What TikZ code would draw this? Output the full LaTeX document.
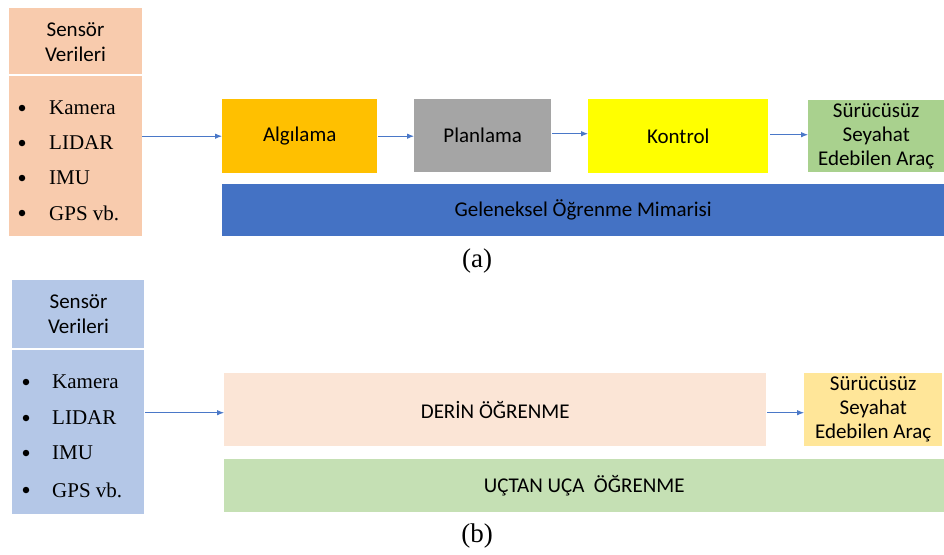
\documentclass[tikz,border=0pt]{standalone}
\usepackage{fontspec}
\setmainfont{Liberation Serif}
\newfontfamily\calfont{Carlito}
\usetikzlibrary{arrows.meta,calc}

\definecolor{sensA}{HTML}{F8CBAD}
\definecolor{sensB}{HTML}{B4C7E7}
\definecolor{algC}{HTML}{FFC000}
\definecolor{planC}{HTML}{A5A5A5}
\definecolor{konC}{HTML}{FFFF00}
\definecolor{goalA}{HTML}{A9D18E}
\definecolor{goalB}{HTML}{FFE699}
\definecolor{barA}{HTML}{4472C4}
\definecolor{derC}{HTML}{FBE5D6}
\definecolor{barB}{HTML}{C5E0B4}
\definecolor{arrC}{HTML}{4A78C8}

\tikzset{
  box/.style={rectangle, draw=none, inner sep=0pt, anchor=north west,
    align=center, font=\calfont\fontsize{21}{24}\selectfont, text=black},
  item/.style={anchor=west, inner sep=0pt, font=\fontsize{21}{24}\selectfont},
  head/.style={inner sep=0pt, align=center, font=\calfont\fontsize{21}{25}\selectfont},
  dot/.style={fill=black, draw=none, circle, minimum size=6.5pt, inner sep=0pt},
  arr/.style={draw=arrC, line width=0.9pt, -{Latex[length=7pt,width=5.5pt]}},
  sep/.style={draw=white, line width=1.2pt},
  sublabel/.style={inner sep=0pt, font=\fontsize{27}{30}\selectfont}
}

\begin{document}
\begin{tikzpicture}[x=1pt,y=-1pt]
\useasboundingbox (0,0) rectangle (944,554);

% ---------- (a) traditional pipeline ----------
\node[box, fill=sensA, minimum width=133pt, minimum height=228pt] (sa) at (9,8) {};
\draw[sep] (9,75) -- (142,75);
\node[head] (sah) at (75.5,42) {Sensör\\Verileri};
\foreach \yy/\txt/\nm in {108/Kamera/ka, 143/LIDAR/la, 178/IMU/ia, 213/GPS vb./ga}{
  \node[dot] (d\nm) at (22,\yy) {};
  \node[item] (\nm) at (49,\yy) {\txt};
}

\node[box, fill=algC, minimum width=155pt, minimum height=74pt] (alg) at (222,99) {Algılama};
\node[box, fill=planC, minimum width=137pt, minimum height=73pt] (plan) at (414,99) {Planlama};
\node[box, fill=konC, minimum width=180pt, minimum height=74pt] (kon) at (588,99) {Kontrol};
\node[box, fill=goalA, minimum width=136pt, minimum height=72pt] (goa) at (808,100) {Sürücüsüz\\Seyahat\\Edebilen Araç};
\node[box, fill=barA, minimum width=722pt, minimum height=52pt] (bara) at (222,184) {Geleneksel Öğrenme Mimarisi};

\draw[arr] (sa.east |- alg.west) -- (alg.west);
\draw[arr] ($(alg.east)+(1,0)$) -- (plan.west |- alg.east);
\draw[arr] ($(plan.east)+(1,-2)$) -- ($(kon.west)+(0,-2.5)$);
\draw[arr] ($(kon.east)+(2,-1.5)$) -- ($(goa.west)+(0,-1.5)$);

\node[sublabel] (capa) at (477,261) {(a)};

% ---------- (b) end-to-end learning ----------
\node[box, fill=sensB, minimum width=132pt, minimum height=234pt] (sb) at (12,280) {};
\draw[sep] (12,349) -- (144,349);
\node[head] (sbh) at (78.5,314.5) {Sensör\\Verileri};
\foreach \yy/\txt/\nm in {382/Kamera/kb, 418/LIDAR/lb, 453/IMU/ib, 490/GPS vb./gb}{
  \node[dot] (d\nm) at (26,\yy) {};
  \node[item] (\nm) at (52,\yy) {\txt};
}

\node[box, fill=derC, minimum width=542pt, minimum height=73pt] (der) at (224,373) {DERİN ÖĞRENME};
\node[box, fill=goalB, minimum width=138pt, minimum height=73pt] (gob) at (804,373) {Sürücüsüz\\Seyahat\\Edebilen Araç};
\node[box, fill=barB, minimum width=720pt, minimum height=53pt] (barb) at (224,459) {UÇTAN UÇA\ \ ÖĞRENME};

\draw[arr] ($(sb.east |- der.west)+(1,3)$) -- ($(der.west)+(0,3)$);
\draw[arr] ($(der.east)+(1,3)$) -- ($(gob.west)+(0,3)$);

\node[sublabel] (capb) at (477,536) {(b)};
\end{tikzpicture}
\end{document}
